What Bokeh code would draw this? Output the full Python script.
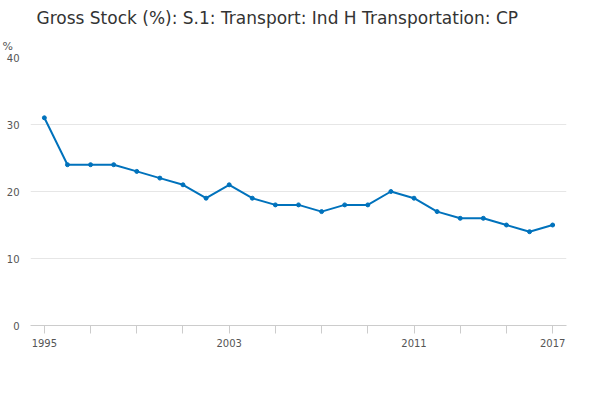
from bokeh.plotting import figure
from bokeh.embed import file_html
from bokeh.resources import INLINE
from bokeh.models import FixedTicker, Legend, LegendItem, Title, Range1d

years = list(range(1995, 2018))
values = [31,24,24,24,23,22,21,19,21,19,18,18,17,18,18,20,19,17,16,16,15,14,15]
series_name = "Gross Stock (%): S.1: Transport: Ind H Transportation: CP"
shown_labels = {1995: "1995", 2003: "2003", 2011: "2011", 2017: "2017"}

p = figure(frame_width=536, frame_height=268, output_backend="svg", toolbar_location=None,
           x_range=Range1d(1994.4, 2017.6), y_range=Range1d(0, 40))
p.min_border_left = 30
p.min_border_right = 8
p.min_border_top = 5
p.min_border_bottom = 0
p.outline_line_color = None

p.title.text = series_name
p.title.text_font = "DejaVu Sans"
p.title.text_font_size = "17px"
p.title.text_font_style = "normal"
p.title.text_color = "#333333"
p.title.offset = 6

r = p.line(years, values, line_color="#0072bc", line_width=2)
s = p.scatter(years, values, size=4, color="#0072bc")

p.yaxis.ticker = FixedTicker(ticks=[0, 10, 20, 30, 40])
p.xaxis.ticker = FixedTicker(ticks=list(range(1995, 2018, 2)))
p.xaxis.major_label_overrides = {y: shown_labels.get(y, "") for y in range(1995, 2018)}
for ax in (p.xaxis, p.yaxis):
    ax.major_label_text_font = "DejaVu Sans"
    ax.major_label_text_font_size = "10px"
    ax.major_label_text_color = "#555555"
    ax.minor_tick_line_color = None
p.yaxis.axis_line_color = None
p.yaxis.major_tick_line_color = None
p.xaxis.axis_line_color = "#cccccc"
p.xaxis.major_tick_line_color = "#cccccc"
p.xaxis.major_tick_in = 0
p.xaxis.major_tick_out = 8
p.xgrid.grid_line_color = None
p.ygrid.grid_line_color = "#e6e6e6"

p.add_layout(Title(text="%", text_font_size="11px", text_font_style="normal",
                   text_color="#555555", text_font="DejaVu Sans", offset=-28), "above")

legend = Legend(items=[LegendItem(label=series_name, renderers=[r, s])],
                location="center", orientation="horizontal",
                label_text_font="DejaVu Sans", label_text_font_size="12px",
                label_text_font_style="bold", label_text_color="#333333",
                border_line_color=None, margin=4, padding=4)
p.add_layout(legend, "below")
p.add_layout(Title(text="Source:", align="right", text_font_size="12px",
                   text_font_style="normal", text_color="#555555",
                   text_font="DejaVu Sans"), "below")

open("out.html", "w").write(file_html(p, INLINE))
